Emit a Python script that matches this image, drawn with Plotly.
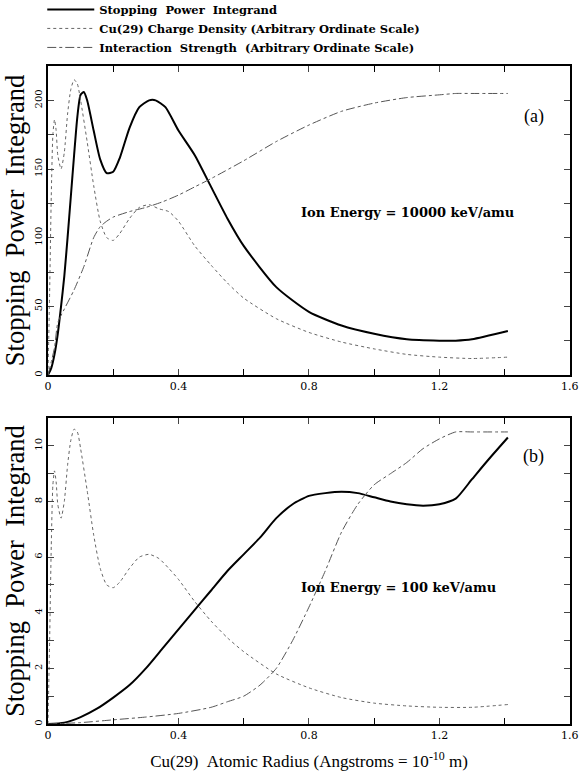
import plotly.graph_objects as go
from plotly.subplots import make_subplots

# ---- panel (a): ion energy 10000 keV/amu ----
r_sp_a = [0, 0.01, 0.02, 0.03, 0.04, 0.05, 0.06, 0.07, 0.08, 0.09, 0.1, 0.11, 0.12, 0.14,
          0.16, 0.18, 0.2, 0.22, 0.25, 0.28, 0.31, 0.33, 0.36, 0.4, 0.45, 0.5, 0.55, 0.6,
          0.7, 0.8, 0.9, 1.0, 1.1, 1.2, 1.25, 1.3, 1.41]
sp_a = [0, 5, 15, 30, 50, 72, 100, 130, 160, 188, 204, 206, 200, 178,
        157, 147, 148, 158, 180, 195, 200, 200, 195, 178, 160, 137, 114, 94,
        64, 46, 36, 30, 26, 25, 25, 26, 32]

r_cd = [0, 0.005, 0.01, 0.015, 0.02, 0.025, 0.03, 0.04, 0.05, 0.06, 0.07, 0.08, 0.09, 0.1,
        0.12, 0.14, 0.16, 0.18, 0.2, 0.22, 0.25, 0.28, 0.31, 0.34, 0.37, 0.4, 0.45, 0.5,
        0.55, 0.6, 0.7, 0.8, 0.9, 1.0, 1.1, 1.2, 1.3, 1.41]
cd_a = [0, 60, 130, 175, 186, 178, 160, 150, 162, 190, 208, 215, 212, 200,
        170, 138, 112, 100, 98, 103, 114, 122, 124, 121, 119, 112, 94, 80,
        67, 56, 41, 31, 24, 19, 15, 13, 12, 13]

r_is_a = [0, 0.02, 0.03, 0.05, 0.08, 0.11, 0.14, 0.16, 0.18, 0.2, 0.25, 0.3, 0.35, 0.4,
          0.45, 0.5, 0.6, 0.7, 0.8, 0.9, 1.0, 1.1, 1.2, 1.25, 1.3, 1.41]
is_a = [0, 20, 38, 48, 62, 79, 100, 108, 112, 115, 119, 122, 126, 131,
        137, 143, 156, 170, 182, 192, 198, 202, 204, 205, 205, 205]

# ---- panel (b): ion energy 100 keV/amu ----
r_sp_b = [0, 0.05, 0.1, 0.15, 0.2, 0.25, 0.3, 0.35, 0.4, 0.45, 0.5, 0.55, 0.6, 0.65, 0.7,
          0.75, 0.8, 0.85, 0.9, 0.95, 1.0, 1.05, 1.1, 1.15, 1.2, 1.25, 1.3, 1.35, 1.41]
sp_b = [0, 0.05, 0.25, 0.55, 0.95, 1.4, 2.0, 2.7, 3.4, 4.1, 4.8, 5.5, 6.1, 6.7, 7.4,
        7.9, 8.2, 8.3, 8.35, 8.3, 8.15, 8.0, 7.9, 7.85, 7.9, 8.1, 8.8, 9.5, 10.3]

cd_b = [0, 3.0, 6.4, 8.6, 9.1, 8.7, 7.9, 7.4, 8.0, 9.3, 10.2, 10.6, 10.5, 9.9,
        8.4, 6.8, 5.6, 5.0, 4.9, 5.1, 5.6, 6.0, 6.1, 5.95, 5.6, 5.2, 4.4, 3.7,
        3.1, 2.6, 1.8, 1.3, 0.95, 0.75, 0.65, 0.6, 0.6, 0.7]

r_is_b = [0, 0.1, 0.2, 0.3, 0.4, 0.5, 0.55, 0.6, 0.65, 0.7, 0.75, 0.8, 0.85, 0.9, 0.95,
          1.0, 1.05, 1.1, 1.15, 1.2, 1.25, 1.3, 1.41]
is_b = [0, 0.05, 0.15, 0.25, 0.38, 0.6, 0.8, 1.0, 1.4, 2.0, 3.0, 4.2, 5.5, 6.9, 7.9,
        8.6, 9.0, 9.4, 9.9, 10.25, 10.5, 10.5, 10.5]

x_ticks = [0, 0.4, 0.8, 1.2, 1.6]
x_ticktext = ["0", "0.4", "0.8", "1.2", "1.6"]

names = ["Stopping\u00a0\u00a0Power\u00a0\u00a0Integrand",
         "Cu(29) Charge Density (Arbitrary Ordinate Scale)",
         "Interaction\u00a0\u00a0Strength\u00a0\u00a0(Arbitrary Ordinate Scale)"]

fig = make_subplots(rows=2, cols=1)

solid = dict(color="black", width=2, shape="spline", smoothing=0.6)
dotted = dict(color="#666666", width=1, dash="dot", shape="spline", smoothing=0.6)
dashdot = dict(color="#555555", width=1, dash="dashdot", shape="spline", smoothing=0.6)

fig.add_trace(go.Scatter(x=r_sp_a, y=sp_a, mode="lines", line=solid, name=names[0]), 1, 1)
fig.add_trace(go.Scatter(x=r_cd, y=cd_a, mode="lines", line=dotted, name=names[1]), 1, 1)
fig.add_trace(go.Scatter(x=r_is_a, y=is_a, mode="lines", line=dashdot, name=names[2]), 1, 1)

fig.add_trace(go.Scatter(x=r_sp_b, y=sp_b, mode="lines", line=solid, showlegend=False), 2, 1)
fig.add_trace(go.Scatter(x=r_cd, y=cd_b, mode="lines", line=dotted, showlegend=False), 2, 1)
fig.add_trace(go.Scatter(x=r_is_b, y=is_b, mode="lines", line=dashdot, showlegend=False), 2, 1)

tickfont = dict(family="DejaVu Serif", size=11, color="black")
ytitle = dict(text="Stopping\u00a0\u00a0Power\u00a0\u00a0Integrand",
              font=dict(family="Liberation Serif", size=26.5, color="black"), standoff=3)

xax = dict(range=[0, 1.6005], tickmode="array", tickvals=x_ticks, ticktext=x_ticktext,
           ticks="inside", ticklen=6,
           showline=True, linecolor="black", linewidth=1.5, mirror="ticks",
           showgrid=False, zeroline=False, tickfont=tickfont,
           ticklabeloverflow="allow",
           minor=dict(dtick=0.2, tick0=0, ticks="inside", ticklen=6, tickcolor="black"))
fig.update_xaxes(**xax)
fig.update_xaxes(title=dict(text="Cu(29)\u00a0\u00a0Atomic Radius (Angstroms = 10<sup>-10</sup> m)",
                            font=dict(family="Liberation Serif", size=17, color="black"),
                            standoff=14), row=2, col=1)

yax = dict(ticks="inside", ticklen=6, showline=True, linecolor="black", linewidth=1.5,
           mirror="ticks", showgrid=False, zeroline=False, tickangle=-90,
           tickfont=dict(family="DejaVu Serif", size=10, color="black"), title=ytitle)
fig.update_yaxes(**yax)
fig.update_yaxes(range=[0, 225], dtick=50, domain=[0.5304, 1.0],
                 minor=dict(dtick=25, ticks="inside", ticklen=6), row=1, col=1)
fig.update_yaxes(range=[0, 11], dtick=2, domain=[0.0, 0.465],
                 minor=dict(dtick=1, ticks="inside", ticklen=6), row=2, col=1)

ann_font = dict(family="DejaVu Serif", size=13, color="black", weight="bold")
lab_font = dict(family="Liberation Serif", size=18, color="black")
fig.add_annotation(x=1.49, y=188, xref="x", yref="y", text="(a)", showarrow=False, font=lab_font)
fig.add_annotation(x=0.77, y=118, xref="x", yref="y", xanchor="left",
                   text="Ion Energy = 10000 keV/amu", showarrow=False, font=ann_font)
fig.add_annotation(x=1.49, y=9.6, xref="x2", yref="y2", text="(b)", showarrow=False, font=lab_font)
fig.add_annotation(x=0.77, y=4.9, xref="x2", yref="y2", xanchor="left",
                   text="Ion Energy = 100 keV/amu", showarrow=False, font=ann_font)

fig.update_layout(
    width=584, height=778,
    margin=dict(l=48, r=14, t=66, b=54, autoexpand=False),
    plot_bgcolor="white", paper_bgcolor="white",
    legend=dict(x=-0.011, y=1.108, xanchor="left", yanchor="top", itemwidth=47,
                font=dict(family="DejaVu Serif", size=11.5, color="black", weight="bold"),
                bgcolor="rgba(0,0,0,0)", tracegroupgap=0),
)

# drop the default page margin so the 584x778 figure fills the window exactly
fig.write_html("out.html", config={"displayModeBar": False},
               post_script="document.body.style.margin='0';")
